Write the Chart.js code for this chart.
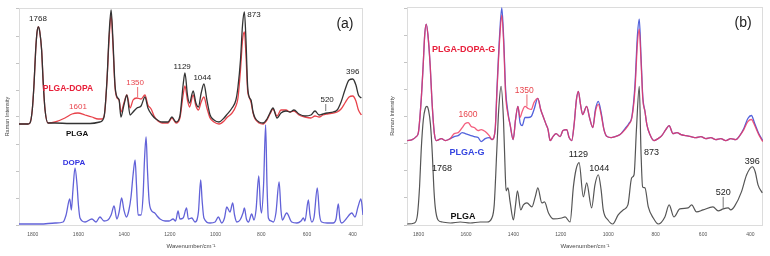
<!DOCTYPE html>
<html>
<head>
<meta charset="utf-8">
<script src="https://cdn.jsdelivr.net/npm/chart.js@4.4.1/dist/chart.umd.min.js"></script>
<style>
  html, body { margin: 0; padding: 0; background: #fff; }
  body { width: 770px; height: 256px; position: relative; overflow: hidden; }
  .panel { position: absolute; top: 0; height: 256px; }
  #wrapA { left: 0; width: 380px; }
  #wrapB { left: 385px; width: 385px; }
</style>
</head>
<body>
<div class="panel" id="wrapA"><canvas id="chartA"></canvas></div>
<div class="panel" id="wrapB"><canvas id="chartB"></canvas></div>
<script>
// ---- axis ticks ----
const xTicks = [1800, 1600, 1400, 1200, 1000, 800, 600, 400];
const yTicks = [0, 27, 54, 81, 108, 135, 162, 189, 216];

// ---- panel (a) ----
const wnPlgaA = [1860,1821,1812,1802,1794,1787,1781,1775,1769,1761,1754,1746,1733,1702,1637,1549,1506,1488,1475,1466,1457,1449,1440,1431,1422,1414,1401,1388,1374,1361,1344,1326,1309,1296,1278,1261,1234,1208,1191,1173,1156,1142,1134,1123,1114,1098,1086,1075,1063,1051,1038,1024,1007,985,963,952,928,911,902,891,882,874,867,860,853,845,836,827,810,792,775,762,749,731,714,692,674,657,635,609,583,565,547,530,512,486,468,451,434,416,400,386,375,362];
const intPlgaA = [101,101,102,115,142,175,193,198,193,175,142,115,102,102,101.5,101.5,103,108,145,190,215,185,140,128,125,108,120,130,110,113,117,119,128,117,110,106,103,103,108,103,109,140,152,130,122,134,122,118,132,141,125,110,105,103,107,110,117,125,138,165,200,213,185,140,128,125,113,107,103,102,106,112,117,107,112,114,113,115,111,109,110,114,110,111,112,113,115,123,135,145,146,140,130,127];

const wnPlgaDopaA = [1860,1821,1812,1802,1794,1787,1781,1775,1769,1761,1754,1746,1733,1702,1659,1628,1602,1571,1541,1514,1497,1486,1475,1466,1457,1449,1440,1431,1422,1414,1401,1388,1374,1361,1344,1326,1309,1296,1282,1269,1252,1234,1208,1191,1173,1156,1142,1134,1123,1114,1098,1086,1075,1063,1051,1038,1024,1007,985,963,952,928,911,902,891,882,874,867,860,853,845,836,827,810,792,775,762,749,731,714,692,674,657,635,609,583,565,547,530,512,486,468,451,434,416,400,386,375,362];
const intPlgaDopaA = [101,101,102,115,142,175,193,198,193,175,142,115,102,103,107,111,112,110,108,106,106,111,145,185,210,180,138,127,125,113,122,130,117,125,127,126,130,120,116,109,104,102,102,107,102,107,130,139,125,118,130,119,115,123,128,117,107,103,101,104,107,112,119,127,155,185,193,170,135,128,123,112,106,102,101,105,111,116,109,115,115,113,114,110,108,107,109,108,110,111,112,113,116,122,128,129,124,115,110];

const wnDopaA = [1860,1768,1702,1667,1654,1638,1631,1624,1615,1606,1600,1593,1571,1541,1523,1506,1488,1471,1457,1444,1432,1422,1411,1401,1390,1379,1370,1361,1352,1346,1339,1326,1317,1311,1304,1298,1291,1282,1266,1256,1243,1221,1203,1186,1175,1164,1156,1142,1127,1119,1104,1090,1075,1065,1059,1051,1024,1002,988,973,961,951,937,925,917,907,893,880,874,865,856,842,832,823,811,804,799,790,781,775,769,757,747,736,722,714,708,689,667,644,626,616,609,594,587,579,569,555,545,536,512,486,473,463,456,448,429,404,390,377,364,355];
const intDopaA = [1,1,2,3,10,26,15,35,57,40,20,7,3,6,3,8,4,5,10,19,6,13,27,15,8,15,28,50,65,40,10,10,30,65,88,55,25,15,12,9,6,4,4,6,4,14,6,7,17,6,7,3,13,45,25,7,2,3,8,2,7,18,13,22,10,3,5,12,17,6,3,11,5,15,49,20,12,40,100,40,7,4,3,12,43,15,5,12,3,2,4,7,4,25,10,3,8,37,10,3,2,2,6,21,6,2,6,12,8,18,26,10];

// ---- panel (b) ----
const wnGelB = [1848,1827,1810,1801,1789,1781,1774,1768,1761,1751,1744,1734,1725,1704,1688,1666,1650,1633,1616,1603,1591,1578,1565,1549,1536,1519,1502,1490,1477,1469,1458,1449,1441,1433,1423,1414,1401,1391,1381,1372,1363,1351,1338,1325,1313,1297,1285,1273,1262,1254,1245,1233,1220,1203,1191,1175,1165,1154,1144,1134,1126,1117,1108,1091,1079,1065,1054,1042,1030,1018,1005,988,971,950,929,913,900,887,877,869,862,854,845,837,824,807,790,774,757,743,727,710,693,672,651,630,609,588,567,546,525,504,483,462,445,428,411,396,382,365,348];
const intPlgaDopaGB = [84,85,88,92,125,158,190,200,190,158,125,92,84,86,84,86,91,92,97,101,102,98,97,94,95,93,89,85,95,135,185,209,180,130,110,100,85,105,118,107,113,118,116,115,122,126,115,107,100,95,84,88,91,88,94,95,87,84,100,125,133,120,110,118,107,97,113,120,110,95,88,87,88,90,95,100,107,135,180,195,165,125,113,100,90,84,86,89,95,99,91,92,90,89,88,87,88,86,87,85,86,84,86,85,89,95,103,105,99,90,83];
const intPlgaGB = [84,85,88,92,125,158,190,200,190,158,125,92,84,86,84,86,88,89,92,91,90,89,88,87,83,86,87,85,95,138,190,216,185,135,112,100,85,105,118,102,99,107,107,108,115,126,115,107,100,95,84,88,91,88,94,95,87,84,100,125,133,120,110,118,107,97,115,123,112,95,88,87,88,90,96,101,108,140,188,205,170,127,113,100,90,84,86,89,95,99,91,92,90,89,88,87,88,86,87,85,86,84,86,85,89,96,106,109,101,91,84];

const wnPlgaB = [1848,1818,1805,1796,1789,1780,1772,1765,1758,1750,1742,1736,1730,1718,1700,1666,1624,1582,1540,1511,1491,1481,1470,1462,1452,1442,1435,1431,1423,1414,1400,1391,1383,1369,1358,1343,1322,1308,1297,1280,1269,1252,1231,1196,1182,1161,1147,1136,1123,1105,1091,1070,1056,1042,1030,1021,1001,981,958,937,917,901,891,881,869,862,855,845,831,810,789,761,743,723,698,663,648,627,600,558,536,515,494,483,466,438,416,392,380,368,350];
const intPlgaB = [1,2,10,38,75,105,116,118,114,100,70,38,18,5,3,2,3,2,3,3,7,20,75,115,138,105,55,34,37,23,5,20,34,15,20,22,18,28,37,22,23,12,6,7,8,3,38,55,62,28,42,17,40,50,35,15,5,1,10,15,20,47,50,95,138,75,38,37,18,7,1,8,20,8,16,17,20,13,15,18,14,16,17,15,19,33,50,58,53,40,32];

// ---- annotation text ----
const notesA = [
  { t: "1768", x: 1777, y: 206, c: "#222", f: "8px 'Liberation Sans'" },
  { t: "PLGA-DOPA", x: 1646, y: 136, c: "#e8203a", f: "bold 8.5px 'Liberation Sans'" },
  { t: "1601", x: 1602, y: 118, c: "#e8454d", f: "8px 'Liberation Sans'" },
  { t: "1350", x: 1352, y: 142, c: "#e8454d", f: "8px 'Liberation Sans'" },
  { t: "1129", x: 1146, y: 158, c: "#222", f: "8px 'Liberation Sans'" },
  { t: "1044", x: 1058, y: 147, c: "#222", f: "8px 'Liberation Sans'" },
  { t: "873", x: 832, y: 210, c: "#222", f: "8px 'Liberation Sans'" },
  { t: "520", x: 512, y: 125, c: "#222", f: "8px 'Liberation Sans'" },
  { t: "396", x: 400, y: 153, c: "#222", f: "8px 'Liberation Sans'" },
  { t: "(a)", x: 434, y: 201, c: "#222", f: "14px 'Liberation Sans'" },
  { t: "PLGA", x: 1606, y: 91, c: "#111", f: "bold 8px 'Liberation Sans'" },
  { t: "DOPA", x: 1619, y: 62, c: "#3434e0", f: "bold 8px 'Liberation Sans'" }
];
const leadersA = [
  { x: 1341, y1: 138, y2: 128, c: "#e8454d" },
  { x: 518, y1: 121, y2: 114, c: "#555" }
];

const notesB = [
  { t: "PLGA-DOPA-G", x: 1610, y: 175, c: "#e8203c", f: "bold 9px 'Liberation Sans'" },
  { t: "1600", x: 1592, y: 110, c: "#e8454d", f: "8.5px 'Liberation Sans'" },
  { t: "1350", x: 1354, y: 134, c: "#e8454d", f: "8.5px 'Liberation Sans'" },
  { t: "(b)", x: 431, y: 201, c: "#222", f: "14px 'Liberation Sans'" },
  { t: "PLGA-G", x: 1596, y: 72, c: "#3444e0", f: "bold 9px 'Liberation Sans'" },
  { t: "1768", x: 1701, y: 56, c: "#222", f: "9px 'Liberation Sans'" },
  { t: "PLGA", x: 1613, y: 8, c: "#111", f: "bold 9px 'Liberation Sans'" },
  { t: "1129", x: 1126, y: 70, c: "#222", f: "9px 'Liberation Sans'" },
  { t: "1044", x: 1038, y: 56, c: "#222", f: "9px 'Liberation Sans'" },
  { t: "873", x: 817, y: 72, c: "#222", f: "9px 'Liberation Sans'" },
  { t: "520", x: 515, y: 32, c: "#222", f: "9px 'Liberation Sans'" },
  { t: "396", x: 392, y: 63, c: "#222", f: "9px 'Liberation Sans'" }
];
const leadersB = [
  { x: 1343, y1: 130, y2: 118, c: "#e8454d" },
  { x: 515, y1: 28, y2: 17, c: "#555" }
];

Chart.defaults.font.family = "'Liberation Sans', Arial, sans-serif";

function pts(xs, ys) {
  return xs.map((v, i) => ({ x: v, y: ys[i] }));
}

// light frame round the plot area
const framePlugin = {
  id: "frame",
  beforeDatasetsDraw(chart) {
    const { ctx, chartArea: a } = chart;
    ctx.save();
    ctx.strokeStyle = "#dcdcdc";
    ctx.lineWidth = 1;
    ctx.strokeRect(a.left + 0.5, a.top + 0.5, a.right - a.left - 1, a.bottom - a.top);
    ctx.restore();
  }
};

// peak labels and leader lines
const notesPlugin = {
  id: "notes",
  afterDatasetsDraw(chart, args, opts) {
    const { ctx } = chart;
    const x = chart.scales.x, y = chart.scales.y;
    ctx.save();
    (opts.lines || []).forEach(l => {
      ctx.strokeStyle = l.c;
      ctx.lineWidth = 0.8;
      ctx.beginPath();
      ctx.moveTo(x.getPixelForValue(l.x), y.getPixelForValue(l.y1));
      ctx.lineTo(x.getPixelForValue(l.x), y.getPixelForValue(l.y2));
      ctx.stroke();
    });
    ctx.textAlign = "center";
    ctx.textBaseline = "middle";
    (opts.items || []).forEach(n => {
      ctx.font = n.f;
      ctx.fillStyle = n.c;
      ctx.fillText(n.t, x.getPixelForValue(n.x), y.getPixelForValue(n.y));
    });
    ctx.restore();
  }
};

function line(data, color, width) {
  return {
    data: data,
    borderColor: color,
    borderWidth: width,
    pointRadius: 0,
    fill: false,
    cubicInterpolationMode: "monotone"
  };
}

function makeChart(id, datasets, xMin, xMax, yWidth, pad, notes, leaders) {
  return new Chart(document.getElementById(id), {
    type: "line",
    data: { datasets: datasets },
    plugins: [framePlugin, notesPlugin],
    options: {
      responsive: true,
      maintainAspectRatio: false,
      animation: false,
      layout: { padding: pad },
      plugins: {
        legend: { display: false },
        tooltip: { enabled: false },
        notes: { items: notes, lines: leaders }
      },
      scales: {
        x: {
          type: "linear",
          reverse: true,
          min: xMin,
          max: xMax,
          afterBuildTicks: s => { s.ticks = xTicks.map(v => ({ value: v })); },
          afterFit: s => { s.height = 31; },
          grid: { display: false, drawTicks: false },
          border: { display: false },
          ticks: {
            font: { size: 5 },
            color: "#555",
            padding: 7,
            maxRotation: 0,
            autoSkip: false,
            callback: v => String(v)
          },
          title: {
            display: true,
            text: "Wavenumber/cm⁻¹",
            font: { size: 6 },
            color: "#444",
            padding: { top: 0, bottom: 6 }
          }
        },
        y: {
          min: 0,
          max: 217,
          afterBuildTicks: s => { s.ticks = yTicks.map(v => ({ value: v })); },
          afterFit: s => { s.width = yWidth; },
          grid: { drawOnChartArea: false, drawTicks: true, tickLength: 3, color: "#c4c4c4" },
          border: { display: false },
          ticks: { display: false },
          title: {
            display: true,
            text: "Raman Intensity",
            font: { size: 5.5 },
            color: "#444",
            padding: { top: 4, bottom: 0 }
          }
        }
      }
    }
  });
}

makeChart("chartA", [
  line(pts(wnPlgaA, intPlgaA), "#333333", 1.3),
  line(pts(wnPlgaDopaA, intPlgaDopaA), "#e8424a", 1.3),
  line(pts(wnDopaA, intDopaA), "#6262d8", 1.3)
], 355, 1860, 19, { left: 0, right: 17, top: 8, bottom: 0 }, notesA, leadersA);

makeChart("chartB", [
  line(pts(wnGelB, intPlgaDopaGB), "rgba(240,52,92,0.8)", 1.3),
  line(pts(wnGelB, intPlgaGB), "#5262dc", 1.3),
  line(pts(wnPlgaB, intPlgaB), "#555555", 1.2)
], 347, 1849, 22, { left: 0, right: 7, top: 7, bottom: 0 }, notesB, leadersB);
</script>
</body>
</html>
